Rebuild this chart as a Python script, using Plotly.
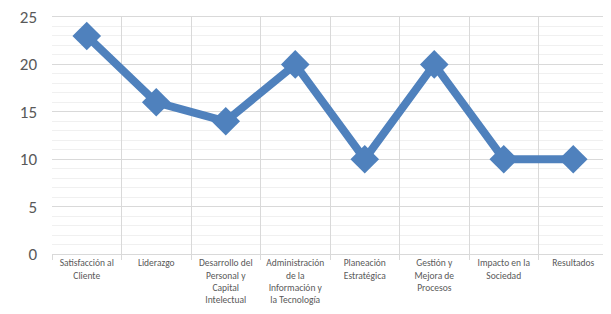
import plotly.graph_objects as go

categories = [
    "Satisfacción al<br>Cliente",
    "Liderazgo",
    "Desarrollo del<br>Personal y<br>Capital<br>Intelectual",
    "Administración<br>de la<br>Información y<br>la Tecnología",
    "Planeación<br>Estratégica",
    "Gestión y<br>Mejora de<br>Procesos",
    "Impacto en la<br>Sociedad",
    "Resultados",
]
values = [23, 16, 14, 20, 10, 20, 10, 10]

FONT = "Carlito, Calibri, Open Sans, sans-serif"

fig = go.Figure(
    go.Scatter(
        x=categories,
        y=values,
        mode="lines+markers",
        line=dict(color="#4f81bd", width=8),
        marker=dict(symbol="diamond", size=22, color="#4f81bd"),
        hoverinfo="skip",
    )
)

# page body has an 8px margin, so the figure is sized and offset accordingly
fig.update_layout(
    width=603,
    height=306,
    margin=dict(l=44, r=3, t=9, b=60),
    paper_bgcolor="white",
    plot_bgcolor="white",
    showlegend=False,
    font=dict(family=FONT, color="#595959"),
)

fig.update_xaxes(
    type="category",
    tickson="boundaries",
    showgrid=True,
    gridcolor="#d9d9d9",
    gridwidth=1,
    ticks="outside",
    ticklen=5,
    tickcolor="#d9d9d9",
    showline=True,
    linecolor="#d9d9d9",
    linewidth=1,
    mirror=True,
    tickangle=0,
    automargin=False,
    tickfont=dict(size=9.5, color="#595959"),
    range=[-0.5, 7.5],
    fixedrange=True,
)

fig.update_yaxes(
    range=[0, 25],
    dtick=5,
    tick0=0,
    showgrid=True,
    gridcolor="#d9d9d9",
    gridwidth=1,
    zeroline=False,
    minor=dict(dtick=1, showgrid=True, gridcolor="#f0f0f0", gridwidth=1),
    tickfont=dict(size=17, color="#595959"),
    ticks="",
    ticklabelstandoff=14,
    ticklabeloverflow="allow",
    automargin=False,
    showline=False,
    fixedrange=True,
)

fig.write_html("out.html")
